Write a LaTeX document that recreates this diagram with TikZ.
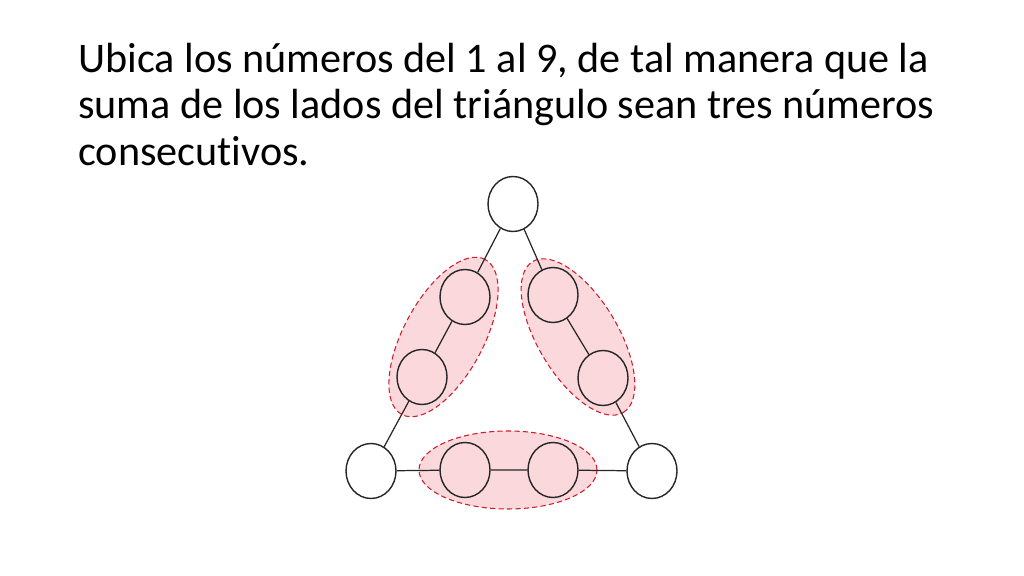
\documentclass[tikz,border=0pt]{standalone}
\usepackage{fontspec}
\setmainfont{Carlito}[Ligatures=NoCommon]
\usetikzlibrary{shapes.geometric, positioning, calc}
\definecolor{rosa}{RGB}{250,216,220}
\definecolor{rojo}{RGB}{206,28,40}
\tikzset{
  titulo/.style={anchor=base west,inner sep=0pt,font=\fontsize{24}{26}\selectfont},
  casilla/.style={ellipse,draw=black!85,line width=.8pt,minimum width=1cm,minimum height=1.1cm,inner sep=0pt},
  grupo/.style={ellipse,draw=rojo,fill=rosa,line width=.6pt,dash pattern=on 3pt off 1.8pt,inner sep=0pt},
  lado/.style={draw=black!85,line width=.7pt},
}

\begin{document}
\begin{tikzpicture}
	    \useasboundingbox (0,0) rectangle (20.48,11.52);
	    \node[titulo] (T1) at (1.56,10.06) {Ubica los números del 1 al 9, de tal manera que la};
	    \node[titulo] (T2) at (1.56,9.14) {suma de los lados del triángulo sean tres números};
	    \node[titulo] (T3) at (1.56,8.20) {consecutivos.};
	    % grupos rojos
	    \node[grupo,minimum width=3.52cm,minimum height=1.6cm,rotate=61.7] (GI) at (8.87,4.78) {};
	    \node[grupo,minimum width=3.52cm,minimum height=1.6cm,rotate=-59] (GD) at (11.56,4.78) {};
	    \node[grupo,minimum width=3.56cm,minimum height=1.56cm] (GB) at (10.16,2.12) {};
	    % casillas
	    \node[casilla] (A) at (10.26,7.44) {};
	    \node[casilla] (B) at (9.30,5.58) {};
	    \node[casilla] (C) at (8.44,3.98) {};
	    \node[casilla] (D) at (7.42,2.10) {};
	    \node[casilla] (E) at (9.30,2.12) {};
	    \node[casilla] (F) at (11.06,2.12) {};
	    \node[casilla] (G) at (13.04,2.10) {};
	    \node[casilla] (H) at (12.06,3.96) {};
	    \node[casilla] (I) at (11.06,5.62) {};
	    \draw[lado] (A) -- (B) -- (C) -- (D) -- (E) -- (F) -- (G) -- (H) -- (I) -- (A);
	\end{tikzpicture}
\end{document}
